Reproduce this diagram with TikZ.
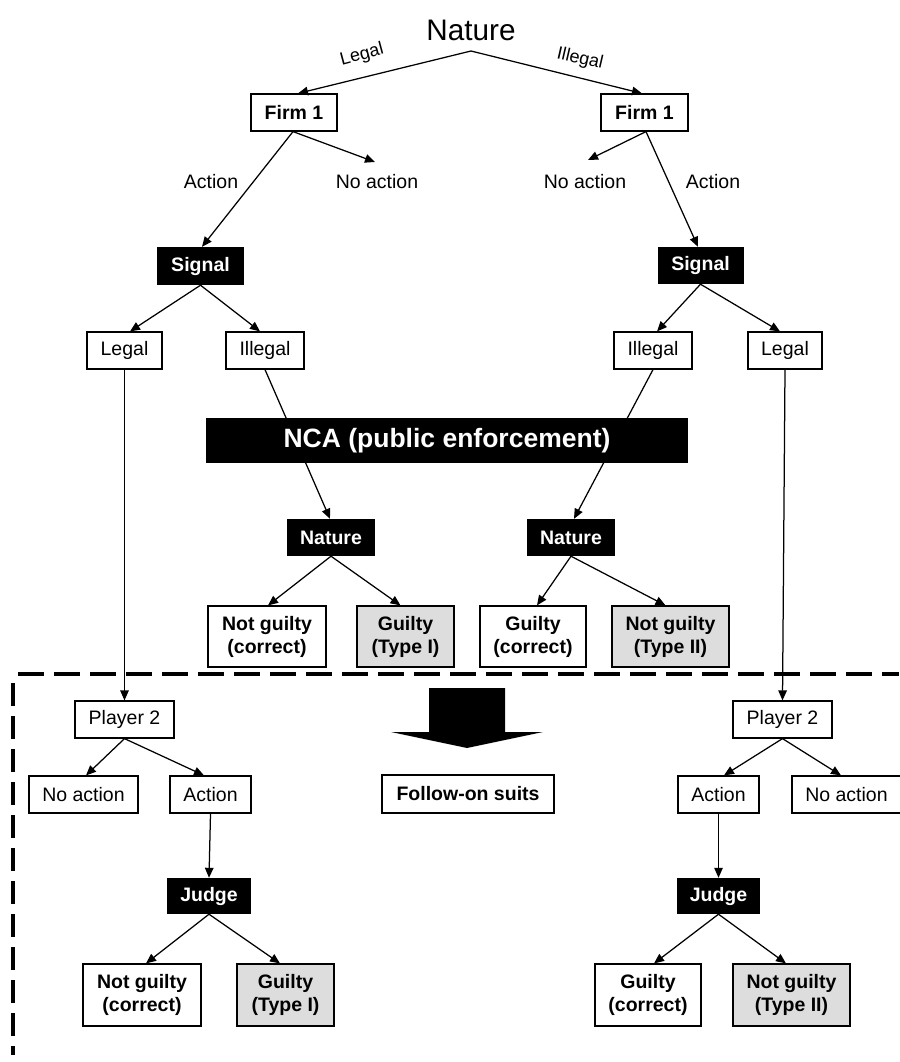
\documentclass[tikz,border=0pt]{standalone}
\usepackage{fontspec}
\setmainfont{Liberation Sans}
\usetikzlibrary{arrows.meta}
\begin{document}
\begin{tikzpicture}[x=1pt,y=-1pt,
  txt/.style={font=\fontsize{19.5}{23}\selectfont},
  elbl/.style={font=\fontsize{18}{20}\selectfont,inner sep=0.5pt},
  bx/.style={draw=black,line width=1.2pt,fill=white,inner sep=0pt,minimum height=37pt,align=center,font=\fontsize{19.5}{23}\selectfont},
  bbx/.style={bx,font=\fontsize{19.5}{23}\selectfont\bfseries},
  blk/.style={fill=black,text=white,inner sep=0pt,minimum height=37pt,align=center,font=\fontsize{19.5}{23}\selectfont\bfseries},
  leaf/.style={bbx,minimum height=61pt},
  gleaf/.style={leaf,fill=gray!27},
  conn/.style={line width=1.25pt,-{Triangle[length=10pt,width=8.5pt]}},
  bigdash/.style={line width=4.5pt,dash pattern=on 26pt off 10pt},
  vdash/.style={line width=3.5pt,dash pattern=on 23pt off 10pt}]
\useasboundingbox (0,0) rectangle (899,1062);
\fill[white] (0,0) rectangle (899,1062);

% top
\node[font=\fontsize{29.7}{32}\selectfont] (nature) at (471,30) {Nature};
\coordinate (apex) at (471,51);
\node[elbl,rotate=15] (lblL) at (362,55) {Legal};
\node[elbl,rotate=-13] (lblR) at (580,59) {Illegal};

\node[bbx,minimum width=86pt] (firmL) at (294,112.5) {Firm 1};
\node[bbx,minimum width=87pt] (firmR) at (644.5,112.5) {Firm 1};

\node[txt] (actL) at (211,182) {Action};
\node[txt] (noactL) at (377,182) {No action};
\node[txt] (noactR) at (585,182) {No action};
\node[txt] (actR) at (713,182) {Action};
\coordinate (naTipL) at (375,162);
\coordinate (naTipR) at (588,160);

\node[blk,minimum width=87pt,minimum height=38pt] (sigL) at (200.5,266) {Signal};
\node[blk,minimum width=86pt] (sigR) at (700.5,265.5) {Signal};

\node[bx,minimum width=75pt] (legalL) at (124.5,350.5) {Legal};
\node[bx,minimum width=78pt] (illegalL) at (265,350.5) {Illegal};
\node[bx,minimum width=78pt] (illegalR) at (653,350.5) {Illegal};
\node[bx,minimum width=74pt] (legalR) at (785,350.5) {Legal};

\node[blk,minimum width=88pt] (natL) at (331,537.5) {Nature};
\node[blk,minimum width=88pt] (natR) at (571,537.5) {Nature};

% connectors behind NCA box
\draw[conn] (illegalL.south) -- ([xshift=-1pt]natL.north);
\draw[conn] (illegalR.south) -- ([xshift=3pt]natR.north);

\node[blk,minimum width=482pt,minimum height=45pt,font=\fontsize{26.5}{28}\selectfont\bfseries] (nca) at (447,440.5) {NCA (public enforcement)};

\node[leaf,minimum width=118pt] (ngcL) at (267,636.5) {Not guilty\\(correct)};
\node[gleaf,minimum width=97pt] (gt1L) at (405.5,636.5) {Guilty\\(Type I)};
\node[leaf,minimum width=106pt] (gcR) at (533,636.5) {Guilty\\(correct)};
\node[gleaf,minimum width=117pt] (ng2R) at (670.5,636.5) {Not guilty\\(Type II)};

% dashed frame
\coordinate (dashH0) at (18,674);
\coordinate (dashH1) at (899,674);
\coordinate (dashV0) at (13,683);
\coordinate (dashV1) at (13,1055);
\draw[bigdash] (dashH0) -- (dashH1);
\draw[vdash] (dashV0) -- (dashV1);

% bottom
\node[bx,minimum width=99pt] (p2L) at (124.5,719.5) {Player 2};
\node[bx,minimum width=99pt] (p2R) at (782.5,719.5) {Player 2};
\node[bx,minimum width=109pt] (naL) at (83.5,794.5) {No action};
\node[bx,minimum width=81pt] (acL) at (210.5,794.5) {Action};
\node[bx,minimum width=81pt] (acR) at (718.5,794.5) {Action};
\node[bx,minimum width=109pt] (naR) at (846.5,794.5) {No action};
\node[bbx,minimum width=172pt,minimum height=38pt] (follow) at (468,794) {Follow-on suits};
\node[blk,minimum width=84pt,minimum height=36pt] (judgeL) at (209,896) {Judge};
\node[blk,minimum width=83pt,minimum height=36pt] (judgeR) at (718.5,896) {Judge};
\node[leaf,minimum width=118pt,minimum height=62pt] (ngcL2) at (142,995) {Not guilty\\(correct)};
\node[gleaf,minimum width=97pt,minimum height=62pt] (gt1L2) at (285.5,995) {Guilty\\(Type I)};
\node[leaf,minimum width=106pt,minimum height=62pt] (gcR2) at (648,995) {Guilty\\(correct)};
\node[gleaf,minimum width=117pt,minimum height=62pt] (ng2R2) at (791.5,995) {Not guilty\\(Type II)};

% big arrow
\fill[black] (429,688) -- (505,688) -- (505,732) -- (543,732) -- (467,748) -- (391,732) -- (429,732) -- cycle;

% connectors
\draw[conn] (apex) -- ([xshift=4pt]firmL.north);
\draw[conn] (apex) -- ([xshift=-2.5pt]firmR.north);
\draw[conn] ([xshift=-1pt]firmL.south) -- (naTipL);
\draw[conn] ([xshift=-1pt]firmL.south) -- ([xshift=1.5pt]sigL.north);
\draw[conn] ([xshift=1.5pt]firmR.south) -- (naTipR);
\draw[conn] ([xshift=1.5pt]firmR.south) -- ([xshift=-2.5pt]sigR.north);

\draw[conn] (sigL.south) -- ([xshift=5.5pt]legalL.north);
\draw[conn] (sigL.south) -- ([xshift=-5pt]illegalL.north);
\draw[conn] (sigR.south) -- ([xshift=4pt]illegalR.north);
\draw[conn] (sigR.south) -- ([xshift=-5pt]legalR.north);

\draw[conn] (legalL.south) -- (p2L.north);
\draw[conn] (legalR.south) -- (p2R.north);

\draw[conn] (natL.south) -- ([xshift=1pt]ngcL.north);
\draw[conn] (natL.south) -- ([xshift=-5pt]gt1L.north);
\draw[conn] (natR.south) -- ([xshift=4pt]gcR.north);
\draw[conn] (natR.south) -- ([xshift=-5pt]ng2R.north);

\draw[conn] (p2L.south) -- ([xshift=2.5pt]naL.north);
\draw[conn] (p2L.south) -- ([xshift=-6.5pt]acL.north);
\draw[conn] (acL.south) -- (judgeL.north);
\draw[conn] (judgeL.south) -- ([xshift=4pt]ngcL2.north);
\draw[conn] (judgeL.south) -- ([xshift=-5.5pt]gt1L2.north);

\draw[conn] (p2R.south) -- ([xshift=5.5pt]acR.north);
\draw[conn] (p2R.south) -- ([xshift=-5.5pt]naR.north);
\draw[conn] (acR.south) -- (judgeR.north);
\draw[conn] (judgeR.south) -- ([xshift=6pt]gcR2.north);
\draw[conn] (judgeR.south) -- ([xshift=-5.5pt]ng2R2.north);
\end{tikzpicture}
\end{document}
